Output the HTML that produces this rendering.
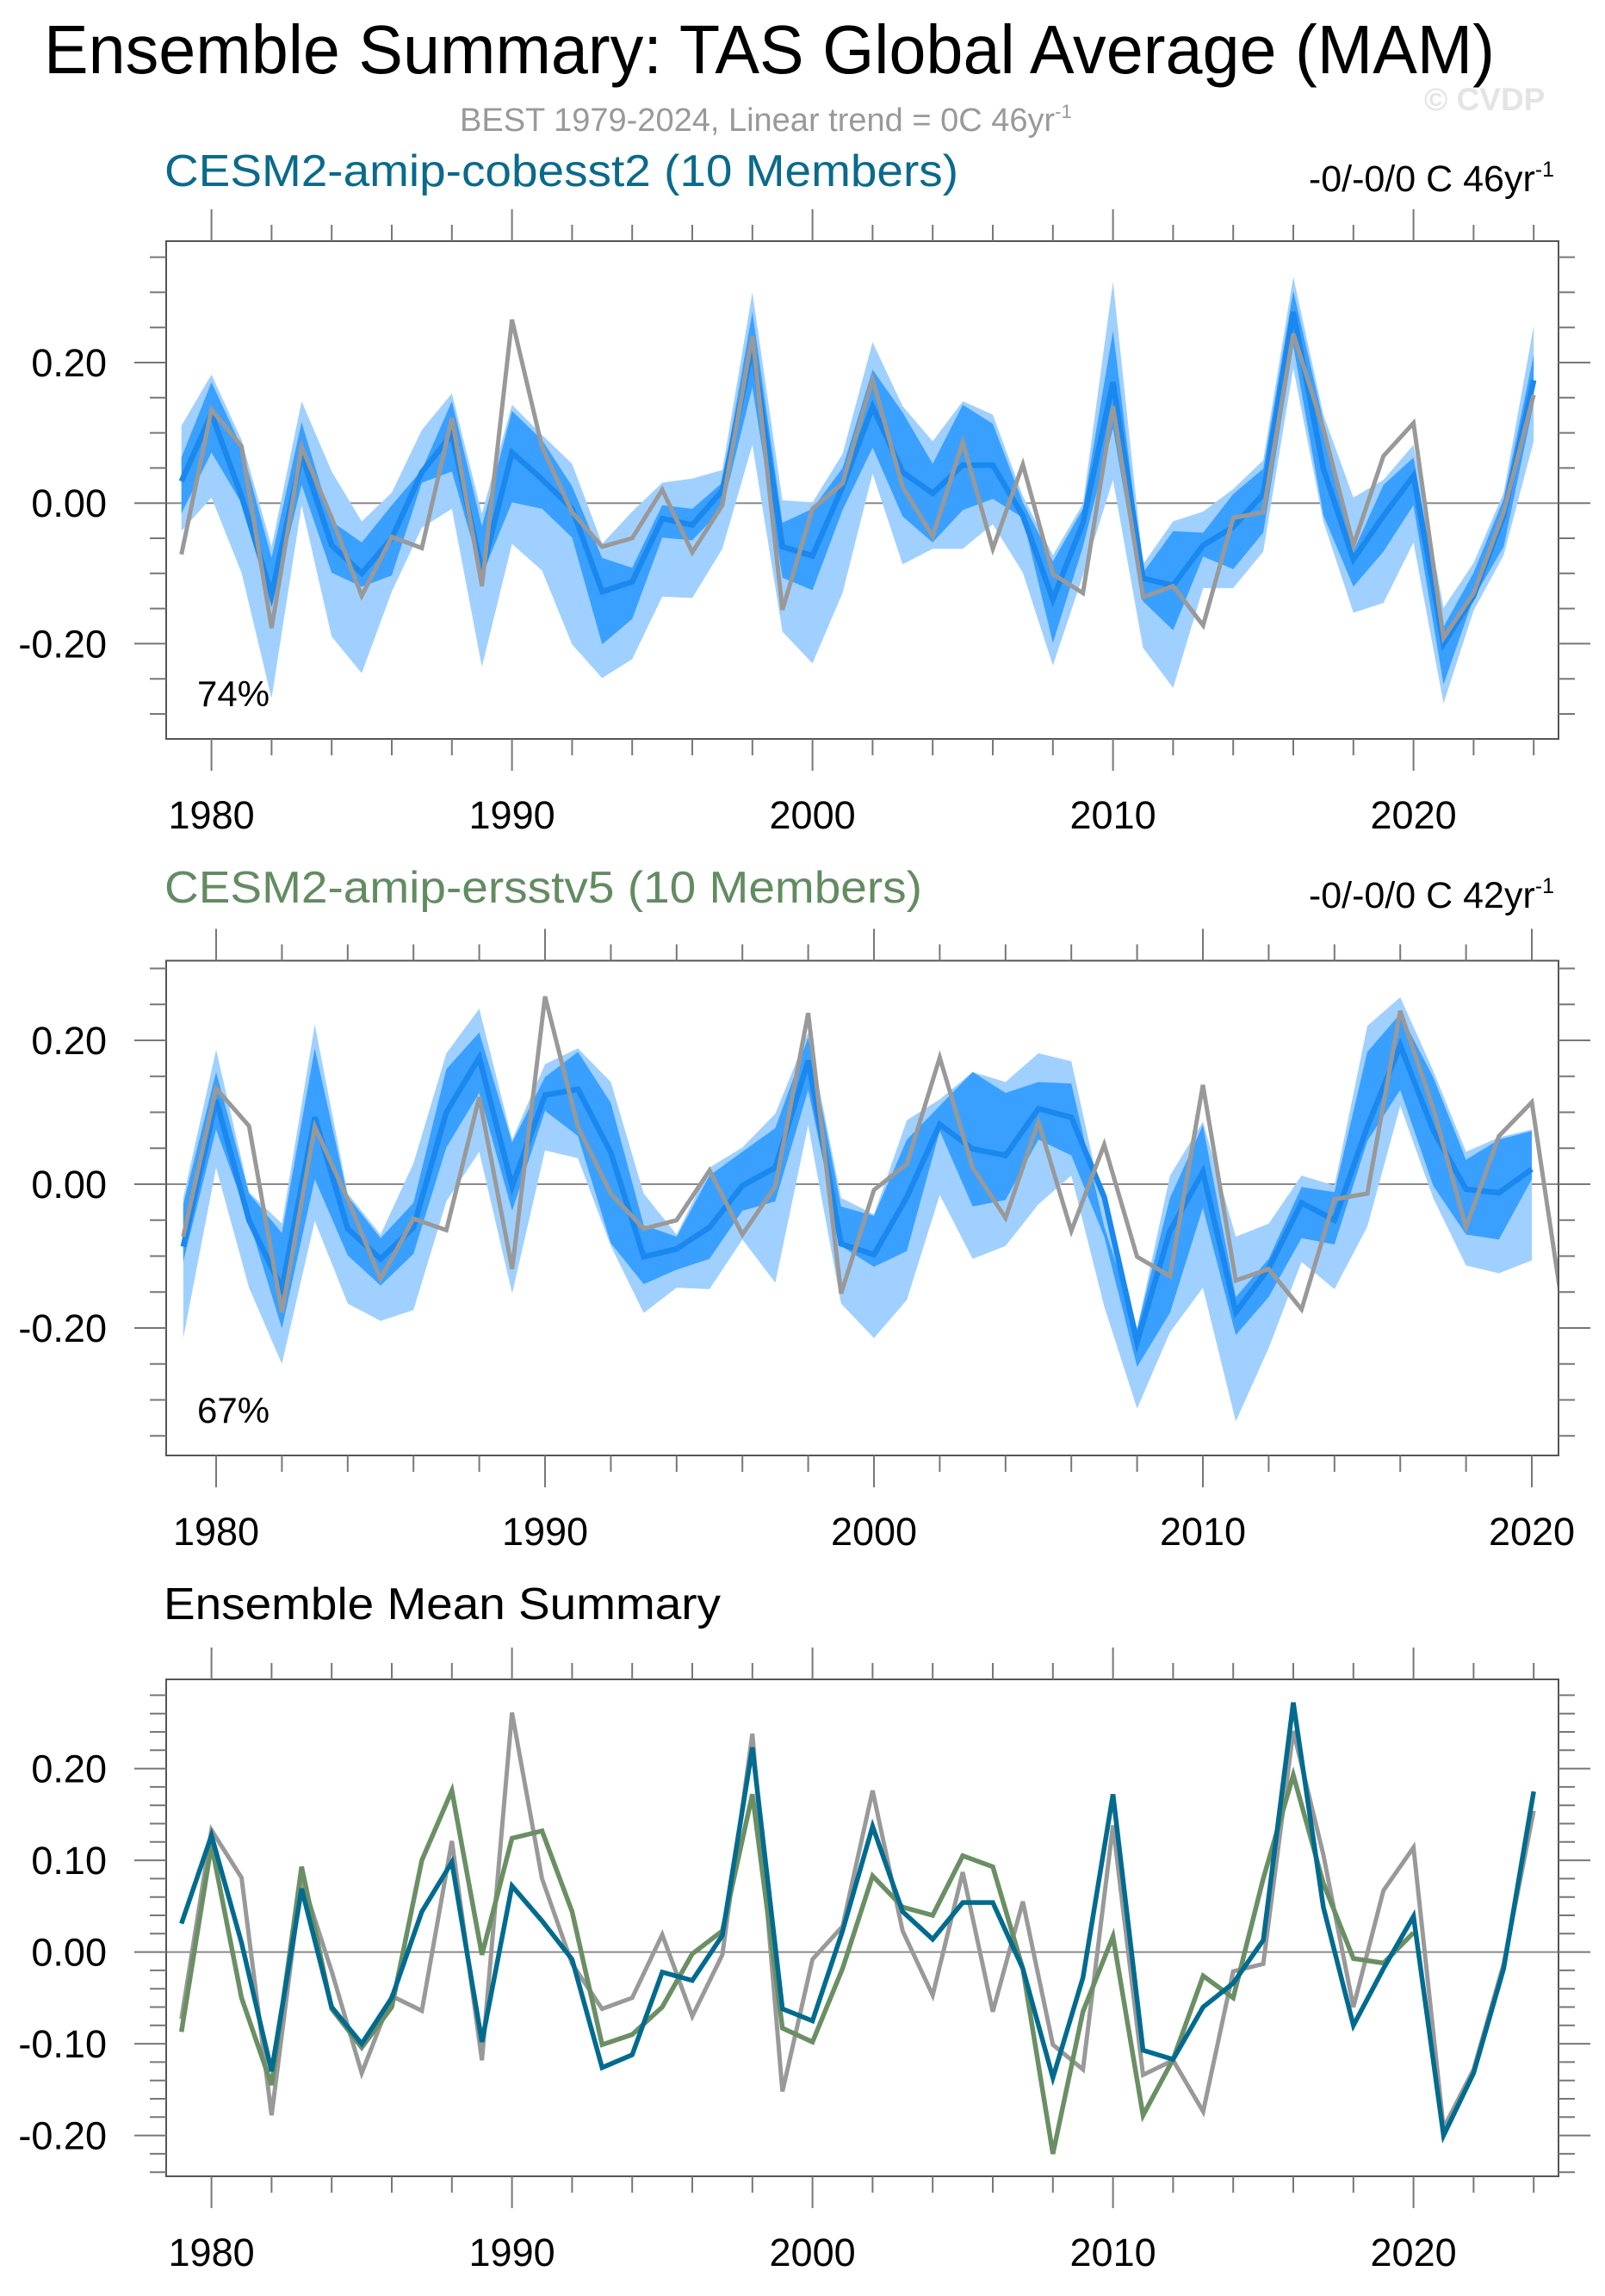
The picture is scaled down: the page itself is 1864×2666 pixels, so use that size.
<!DOCTYPE html>
<html><head><meta charset="utf-8"><style>
html,body{margin:0;padding:0;background:#fff;}
svg{display:block;font-family:"Liberation Sans",Arial,sans-serif;}
</style></head><body>
<svg id="chart" width="1864" height="2666" viewBox="0 0 1864 2666" xmlns="http://www.w3.org/2000/svg">
<rect width="1864" height="2666" fill="#fff"/>
<text x="51" y="85" font-size="80" textLength="1685" lengthAdjust="spacingAndGlyphs" fill="#000">Ensemble Summary: TAS Global Average (MAM)</text>
<text x="1654" y="128" font-size="37" font-weight="bold" fill="#e4e4e4">© CVDP</text>
<text x="534" y="152" font-size="38" fill="#999">BEST 1979-2024, Linear trend = 0C 46yr<tspan font-size="22" dy="-15">-1</tspan></text>
<text x="191" y="216" font-size="52" textLength="922" lengthAdjust="spacingAndGlyphs" fill="#0a6a8c">CESM2-amip-cobesst2 (10 Members)</text>
<text x="1805" y="222" font-size="43" text-anchor="end" fill="#000">-0/-0/0 C 46yr<tspan font-size="25" dy="-17">-1</tspan></text>
<text x="191" y="1048" font-size="52" textLength="880" lengthAdjust="spacingAndGlyphs" fill="#638b62">CESM2-amip-ersstv5 (10 Members)</text>
<text x="1805" y="1054" font-size="43" text-anchor="end" fill="#000">-0/-0/0 C 42yr<tspan font-size="25" dy="-17">-1</tspan></text>
<text x="190" y="1880" font-size="52" textLength="647" lengthAdjust="spacingAndGlyphs" fill="#000">Ensemble Mean Summary</text>
<g id="layer"></g>
</svg>
<script>
const years1 = Array.from({length:46},(_, i)=>1979+i);
const years2 = Array.from({length:42},(_, i)=>1979+i);
const obsBEST = [-0.073,0.133,0.081,-0.178,0.080,-0.021,-0.132,-0.048,-0.064,0.121,-0.118,0.261,0.080,-0.013,-0.062,-0.050,0.019,-0.070,-0.003,0.238,-0.152,-0.008,0.028,0.176,0.023,-0.047,0.087,-0.065,0.055,-0.101,-0.128,0.138,-0.134,-0.118,-0.174,-0.021,-0.013,0.241,0.106,-0.060,0.067,0.114,-0.192,-0.128,-0.013,0.154];
const meanCobe = [0.031,0.127,0.010,-0.130,0.069,-0.060,-0.100,-0.050,0.044,0.098,-0.098,0.072,0.034,-0.008,-0.126,-0.112,-0.022,-0.031,0.018,0.223,-0.062,-0.075,0.023,0.137,0.044,0.014,0.054,0.054,-0.018,-0.137,-0.028,0.172,-0.107,-0.117,-0.060,-0.034,0.013,0.272,0.049,-0.080,-0.018,0.039,-0.200,-0.132,-0.018,0.175];
const cobeMaxHi = [0.110,0.183,0.090,-0.062,0.145,0.045,-0.026,0.015,0.104,0.156,-0.015,0.140,0.097,0.056,-0.058,-0.012,0.029,0.035,0.047,0.300,0.004,0.001,0.070,0.229,0.138,0.088,0.145,0.126,0.010,-0.074,-0.001,0.315,-0.087,-0.026,-0.012,0.020,0.061,0.322,0.126,0.008,0.033,0.083,-0.149,-0.085,0.015,0.252];
const cobeIqrHi = [0.065,0.172,0.080,-0.078,0.115,-0.026,-0.056,-0.003,0.047,0.145,-0.033,0.131,0.090,0.024,-0.078,-0.092,-0.003,-0.008,0.029,0.272,-0.028,-0.008,0.050,0.190,0.129,0.056,0.140,0.113,0.001,-0.083,-0.008,0.245,-0.099,-0.040,-0.042,0.013,0.049,0.302,0.117,-0.069,0.026,0.065,-0.176,-0.099,0.006,0.211];
const cobeIqrLo = [-0.015,0.072,0.000,-0.149,0.026,-0.099,-0.119,-0.103,0.029,0.045,-0.103,0.001,-0.008,-0.049,-0.201,-0.165,-0.049,-0.053,-0.008,0.165,-0.106,-0.124,-0.010,0.079,-0.019,-0.056,-0.010,0.006,-0.021,-0.199,-0.062,0.106,-0.140,-0.181,-0.076,-0.094,-0.042,0.224,-0.017,-0.119,-0.069,-0.003,-0.258,-0.135,-0.062,0.142];
const cobeMinLo = [-0.040,0.008,-0.099,-0.278,-0.003,-0.190,-0.242,-0.126,-0.035,-0.008,-0.233,-0.058,-0.096,-0.201,-0.249,-0.222,-0.133,-0.135,-0.065,0.083,-0.183,-0.228,-0.128,0.042,-0.087,-0.065,-0.065,-0.030,-0.099,-0.231,-0.103,0.033,-0.206,-0.263,-0.121,-0.121,-0.069,0.192,-0.026,-0.156,-0.142,-0.056,-0.285,-0.153,-0.074,0.088];
const meanErsst = [-0.087,0.117,-0.050,-0.145,0.093,-0.062,-0.104,-0.060,0.100,0.176,-0.003,0.124,0.132,0.044,-0.101,-0.090,-0.060,-0.002,0.023,0.172,-0.083,-0.098,-0.018,0.083,0.049,0.040,0.105,0.093,-0.018,-0.220,-0.065,0.017,-0.178,-0.117,-0.026,-0.050,0.080,0.193,0.075,-0.007,-0.012,0.021];
const ersMaxHi = [-0.019,0.187,-0.011,-0.055,0.222,-0.013,-0.070,0.029,0.182,0.244,0.062,0.167,0.189,0.142,-0.013,-0.070,0.023,0.051,0.098,0.211,-0.019,-0.042,0.089,0.118,0.156,0.142,0.182,0.171,-0.037,-0.201,0.012,0.087,-0.073,-0.055,0.012,-0.002,0.220,0.260,0.158,0.045,0.065,0.076];
const ersIqrHi = [-0.028,0.156,-0.013,-0.068,0.189,-0.017,-0.075,-0.026,0.160,0.211,0.058,0.149,0.184,0.113,-0.057,-0.073,0.012,0.045,0.078,0.204,-0.031,-0.044,0.062,0.109,0.156,0.127,0.142,0.140,-0.059,-0.201,-0.019,0.082,-0.157,-0.104,-0.004,-0.011,0.184,0.237,0.149,0.034,0.062,0.074];
const ersIqrLo = [-0.108,0.076,-0.051,-0.201,0.007,-0.099,-0.141,-0.097,0.051,0.127,-0.037,0.102,0.067,-0.082,-0.139,-0.119,-0.104,-0.037,-0.024,0.131,-0.086,-0.115,-0.093,0.074,-0.031,-0.022,0.062,0.040,-0.073,-0.254,-0.179,-0.033,-0.210,-0.157,-0.075,-0.084,0.060,0.131,-0.002,-0.070,-0.077,0.007];
const ersMinLo = [-0.214,0.023,-0.144,-0.250,-0.051,-0.166,-0.190,-0.175,-0.024,0.045,-0.152,0.047,0.036,-0.086,-0.179,-0.144,-0.146,-0.077,-0.137,0.082,-0.166,-0.214,-0.161,-0.015,-0.104,-0.086,-0.028,0.012,-0.170,-0.312,-0.206,-0.144,-0.330,-0.228,-0.108,-0.146,-0.059,0.109,-0.019,-0.113,-0.124,-0.106];
const ytickP12 = [-0.20,0.00,0.20];
const ytickP3 = [-0.20,-0.10,0.00,0.10,0.20];
const xtickLabels = [1980,1990,2000,2010,2020];

const NS="http://www.w3.org/2000/svg";
const layer=document.getElementById('layer');
function mk(tag,attrs,parent){const e=document.createElementNS(NS,tag);for(const k in attrs)e.setAttribute(k,attrs[k]);(parent||layer).appendChild(e);return e;}

function panel(id,cfg){
  const g=mk('g',{});
  
  
  const X=yr=>cfg.x1979+(yr-1979)*cfg.dx;
  const Y=v=>cfg.y0v-v*cfg.sy;
  const cp=mk('clipPath',{id:id+'-clip'},g);
  mk('rect',{x:cfg.L,y:cfg.T,width:cfg.R-cfg.L,height:cfg.B-cfg.T},cp);
  const plot=mk('g',{'clip-path':'url(#'+id+'-clip)'},g);
  function band(years,hi,lo,color,name){
    let d='M'+years.map((yr,i)=>X(yr).toFixed(1)+','+Y(hi[i]).toFixed(1)).join('L');
    for(let i=years.length-1;i>=0;i--)d+='L'+X(years[i]).toFixed(1)+','+Y(lo[i]).toFixed(1);
    const p=mk('path',{d:d+'Z',fill:color,stroke:'none'},plot);
    
    
  }
  function line(years,vals,color,w,name){
    const d='M'+vals.map((v,i)=>X(years[i]).toFixed(1)+','+Y(v).toFixed(1)).join('L');
    const p=mk('path',{d:d,fill:'none',stroke:color,'stroke-width':w,'stroke-linejoin':'miter'},plot);
    
    
  }
  const zl=mk('line',{x1:cfg.L,x2:cfg.R,y1:Y(0),y2:Y(0),stroke:'#8a8a8a','stroke-width':2},plot);
  
  
  cfg.draw(band,line);
  const box=mk('rect',{x:cfg.L,y:cfg.T,width:cfg.R-cfg.L,height:cfg.B-cfg.T,fill:'none',stroke:'#555','stroke-width':2},g);
  
  
  for(let yr=1980;yr<=cfg.xmax;yr+=2){
    const x=X(yr); if(x<cfg.L||x>cfg.R)continue;
    const maj=yr%10===0, len=maj?37:19;
    mk('line',{x1:x,x2:x,y1:cfg.T,y2:cfg.T-len,stroke:'#777','stroke-width':2},g);
    mk('line',{x1:x,x2:x,y1:cfg.B,y2:cfg.B+len,stroke:'#777','stroke-width':2},g);
  }
  xtickLabels.forEach(yr=>{
    const t=mk('text',{x:X(yr),y:cfg.B+104,'font-size':45,'text-anchor':'middle',fill:'#000'},g);
    t.textContent=String(yr);
    
    
  });
  for(let k=Math.round(cfg.ymin/cfg.ystep);k<=Math.round(cfg.ymax/cfg.ystep);k++){
    const v=k*cfg.ystep, y=Y(v);
    const maj=cfg.majors.some(m=>Math.abs(m-v)<1e-6), len=maj?37:19;
    mk('line',{x1:cfg.L,x2:cfg.L-len,y1:y,y2:y,stroke:'#777','stroke-width':2},g);
    mk('line',{x1:cfg.R,x2:cfg.R+len,y1:y,y2:y,stroke:'#777','stroke-width':2},g);
  }
  cfg.majors.forEach(v=>{
    const t=mk('text',{x:124,y:Y(v)+16,'font-size':45,'text-anchor':'end',fill:'#000'},g);
    t.textContent=v.toFixed(2);
    
    
  });
  if(cfg.pct){
    const t=mk('text',{x:229,y:cfg.pctY,'font-size':42,fill:'#000'},g);
    t.textContent=cfg.pct;
    
    
  }
}

panel('panel-cobesst2',{L:193,R:1810,T:280,B:858,x1979:210.7,dx:34.9,y0v:584.2,sy:816,xmax:2024,
  ymin:-0.30,ymax:0.35,ystep:0.05,majors:ytickP12,pct:'74%',pctY:820,
  draw:(band,line)=>{
    band(years1,cobeMaxHi,cobeMinLo,'#a0d0ff','range-band');
    band(years1,cobeIqrHi,cobeIqrLo,'#3aa0ff','interquartile-band');
    line(years1,meanCobe,'#1a88ee',6.5,'ensemble-mean-line');
    line(years1,obsBEST,'#999999',5,'observed-best-line');
  }});
panel('panel-ersstv5',{L:193,R:1810,T:1115.5,B:1690,x1979:212.8,dx:38.2,y0v:1375,sy:835,xmax:2020,
  ymin:-0.35,ymax:0.30,ystep:0.05,majors:ytickP12,pct:'67%',pctY:1652,
  draw:(band,line)=>{
    band(years2,ersMaxHi,ersMinLo,'#a0d0ff','range-band');
    band(years2,ersIqrHi,ersIqrLo,'#3aa0ff','interquartile-band');
    line(years2,meanErsst,'#1a88ee',6.5,'ensemble-mean-line');
    line(years1,obsBEST,'#999999',5,'observed-best-line');
  }});
panel('panel-mean-summary',{L:193,R:1810,T:1950,B:2527,x1979:210.7,dx:34.9,y0v:2266.6,sy:1065,xmax:2024,
  ymin:-0.24,ymax:0.28,ystep:0.02,majors:ytickP3,
  draw:(band,line)=>{
    line(years1,obsBEST,'#999999',5,'observed-best-line');
    line(years2,meanErsst,'#6a8f64',5.5,'ersstv5-mean-line');
    line(years1,meanCobe,'#006b8f',5.5,'cobesst2-mean-line');
  }});
</script>
</body></html>
